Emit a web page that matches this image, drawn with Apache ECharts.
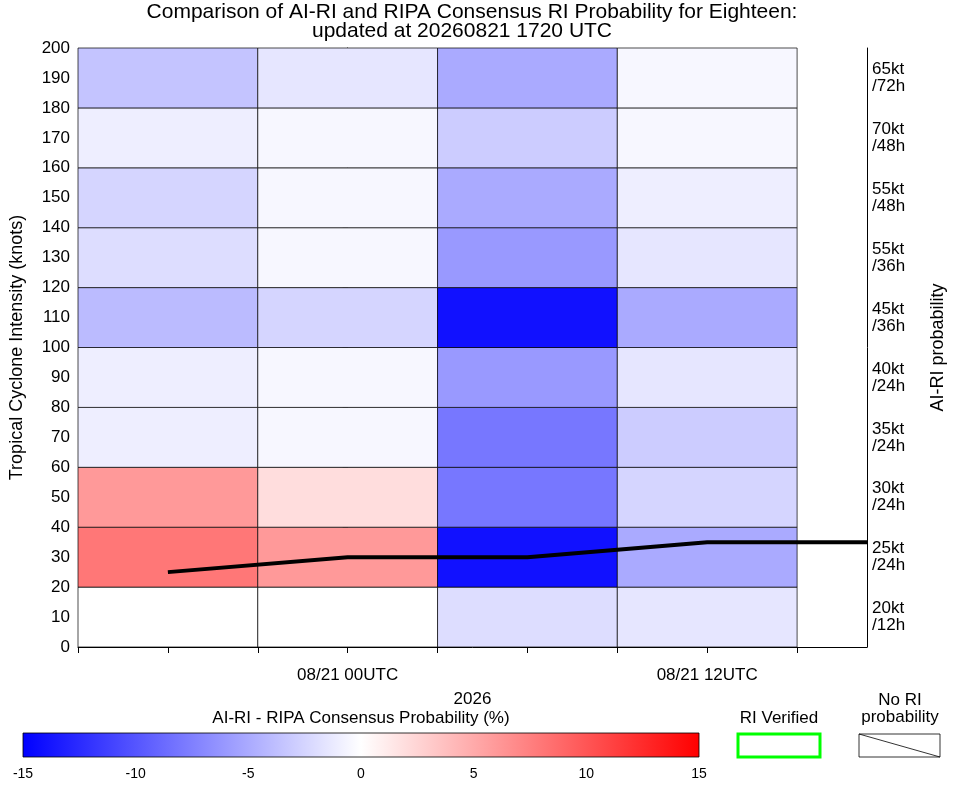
<!DOCTYPE html>
<html>
<head>
<meta charset="utf-8">
<script src="https://cdn.jsdelivr.net/npm/echarts@6/dist/echarts.min.js"></script>
<style>html,body{margin:0;background:#fff}#c{width:963px;height:785px}</style>
</head>
<body>
<div id="c"></div>
<script>
// hours relative to 08/21 00UTC
var colStart = [-9, -3, 3, 9];
var colWidth = 6;
// intensity bands (kt), bottom to top
var bandStart = [0, 20, 40, 60, 80, 100, 120, 140, 160, 180];
var bandLabels = ['20kt\n/12h', '25kt\n/24h', '30kt\n/24h', '35kt\n/24h', '40kt\n/24h',
                  '45kt\n/36h', '55kt\n/36h', '55kt\n/48h', '70kt\n/48h', '65kt\n/72h'];
// AI-RI minus RIPA probability (%), per column, bottom band first
var diffCol1 = [0, 8, 6, -1, -1, -4, -2, -2.5, -1, -3.5];
var diffCol2 = [0, 6, 2, -0.5, -0.5, -2.5, -0.5, -0.5, -0.5, -1.5];
var diffCol3 = [-2, -14, -8, -8, -6, -14, -6, -5, -3, -5];
var diffCol4 = [-1.5, -5, -2.5, -3, -1.5, -5, -1.5, -1, -0.5, -0.5];
// observed intensity track
var trackHours = [-6, 0, 6, 12, 17.333];
var trackKt = [25, 30, 30, 35, 35];

var cols = [diffCol1, diffCol2, diffCol3, diffCol4];
var cells = [];
cols.forEach(function (c, i) {
  c.forEach(function (v, j) {
    cells.push([colStart[i], colStart[i] + colWidth, bandStart[j], bandStart[j] + 20, v]);
  });
});
var track = trackHours.map(function (h, i) { return [h, trackKt[i]]; });

var font = 'Liberation Sans';
var chart = echarts.init(document.getElementById('c'));
chart.setOption({
  animation: false,
  textStyle: { fontFamily: font },
  grid: [
    { left: 77, right: 96, top: 48, bottom: 138 },
    { left: 23, width: 676, top: 733, height: 24 }
  ],
  graphic: [
    { type: 'text', x: 472, y: 2, style: { text: 'Comparison of AI-RI and RIPA Consensus RI Probability for Eighteen:', font: '21px ' + font, fill: '#000', align: 'center' } },
    { type: 'text', x: 462, y: 21, style: { text: 'updated at 20260821 1720 UTC', font: '21px ' + font, fill: '#000', align: 'center' } },
    { type: 'text', x: 361, y: 710, style: { text: 'AI-RI - RIPA Consensus Probability (%)', font: '17px ' + font, fill: '#000', align: 'center' } },
    { type: 'text', x: 779, y: 710, style: { text: 'RI Verified', font: '17px ' + font, fill: '#000', align: 'center' } },
    { type: 'rect', shape: { x: 738, y: 734, width: 82, height: 23 }, style: { fill: '#fff', stroke: '#00ff00', lineWidth: 3 } },
    { type: 'text', x: 900, y: 692, style: { text: 'No RI\nprobability', font: '17px ' + font, fill: '#000', align: 'center', lineHeight: 17 } },
    { type: 'rect', shape: { x: 859, y: 734, width: 81, height: 23 }, style: { fill: '#fff', stroke: '#000', lineWidth: 0.8 } },
    { type: 'line', shape: { x1: 859, y1: 734, x2: 940, y2: 757 }, style: { stroke: '#000', lineWidth: 0.8 } }
  ],
  visualMap: {
    show: false, seriesIndex: 0, dimension: 4, min: -15, max: 15,
    inRange: { color: ['#0000ff', '#ffffff', '#ff0000'] }
  },
  xAxis: [
    {
      type: 'value', gridIndex: 0, min: -9, max: 17.333, interval: 3,
      name: '2026', nameLocation: 'middle', nameGap: 44,
      nameTextStyle: { fontSize: 17, color: '#000' },
      axisLine: { lineStyle: { color: '#000' } },
      axisTick: { lineStyle: { color: '#000' }, length: 6 },
      splitLine: { show: false },
      axisLabel: { fontSize: 17, color: '#000', margin: 20, showMaxLabel: false,
        formatter: function (v) { return v === 0 ? '08/21 00UTC' : v === 12 ? '08/21 12UTC' : ''; } }
    },
    {
      type: 'value', gridIndex: 1, min: -15, max: 15, interval: 5,
      axisLine: { show: false }, axisTick: { show: false }, splitLine: { show: false },
      axisLabel: { fontSize: 14, color: '#000', margin: 10 }
    }
  ],
  yAxis: [
    {
      type: 'value', gridIndex: 0, min: 0, max: 200, interval: 10,
      name: 'Tropical Cyclone Intensity (knots)', nameLocation: 'middle', nameGap: 52,
      nameTextStyle: { fontSize: 18, color: '#000' },
      axisLine: { show: true, lineStyle: { color: '#000' } },
      axisTick: { lineStyle: { color: '#000' } },
      splitLine: { show: false },
      axisLabel: { fontSize: 17, color: '#000' }
    },
    {
      type: 'category', gridIndex: 0, position: 'right', data: bandLabels,
      name: 'AI-RI probability', nameLocation: 'middle', nameGap: 62, nameRotate: 90,
      nameTextStyle: { fontSize: 18, color: '#000' },
      axisLine: { show: true, lineStyle: { color: '#000' } },
      axisTick: { lineStyle: { color: '#000' }, length: 4 },
      axisLabel: { fontSize: 17, color: '#000', lineHeight: 17, margin: 5, align: 'left' }
    },
    { type: 'value', gridIndex: 1, min: 0, max: 1, show: false }
  ],
  series: [
    {
      type: 'custom', xAxisIndex: 0, yAxisIndex: 0, data: cells,
      encode: { x: [0, 1], y: [2, 3] },
      renderItem: function (params, api) {
        var p0 = api.coord([api.value(0), api.value(3)]);
        var p1 = api.coord([api.value(1), api.value(2)]);
        return {
          type: 'rect',
          shape: { x: p0[0], y: p0[1], width: p1[0] - p0[0], height: p1[1] - p0[1] },
          style: { fill: api.visual('color'), stroke: '#000', lineWidth: 0.7 }
        };
      }
    },
    {
      type: 'line', xAxisIndex: 0, yAxisIndex: 0, data: track, showSymbol: false,
      lineStyle: { color: '#000', width: 4 }, z: 5
    },
    {
      type: 'custom', xAxisIndex: 1, yAxisIndex: 2, data: [[-15, 15]],
      renderItem: function (params, api) {
        var p0 = api.coord([-15, 1]);
        var p1 = api.coord([15, 0]);
        return {
          type: 'rect',
          shape: { x: p0[0], y: p0[1], width: p1[0] - p0[0], height: p1[1] - p0[1] },
          style: {
            stroke: '#000', lineWidth: 0.8,
            fill: new echarts.graphic.LinearGradient(0, 0, 1, 0, [
              { offset: 0, color: '#0000ff' }, { offset: 0.5, color: '#ffffff' }, { offset: 1, color: '#ff0000' }
            ])
          }
        };
      }
    }
  ]
});
</script>
</body>
</html>
